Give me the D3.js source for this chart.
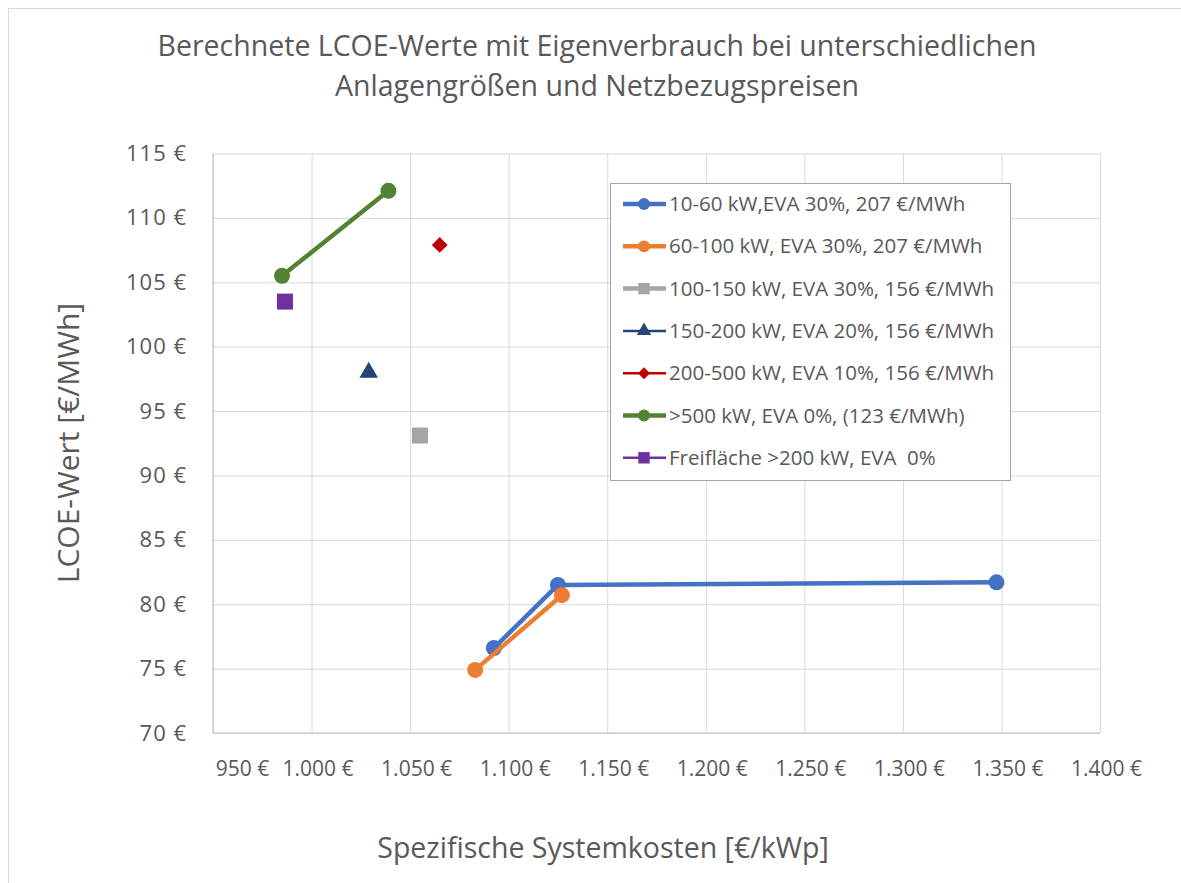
<!DOCTYPE html>
<meta charset="utf-8">
<style>
body { margin: 0; background: #fff; }
text { font-family: "Open Sans", sans-serif; fill: #595959; }
.grid line { stroke: #d9d9d9; stroke-width: 1px; }
.grid path { display: none; }
</style>
<svg width="1181" height="883"></svg>
<script src="https://d3js.org/d3.v7.min.js"></script>
<script>
// series names (legend order)
var seriesNames = [
  "10-60 kW,EVA 30%, 207 €/MWh",
  "60-100 kW, EVA 30%, 207 €/MWh",
  "100-150 kW, EVA 30%, 156 €/MWh",
  "150-200 kW, EVA 20%, 156 €/MWh",
  "200-500 kW, EVA 10%, 156 €/MWh",
  ">500 kW, EVA 0%, (123 €/MWh)",
  "Freifläche >200 kW, EVA  0%"
];
// x = spezifische Systemkosten [€/kWp], y = LCOE [€/MWh]
var kosten = [
  [1092.5, 1125, 1347.5],
  [1083, 1127],
  [1055],
  [1029],
  [1065],
  [985, 1039],
  [986.5]
];
var lcoe = [
  [76.6, 81.5, 81.7],
  [74.9, 80.7],
  [93.1],
  [98.0],
  [107.9],
  [105.5, 112.1],
  [103.5]
];
var colors = ["#4472c4", "#ed7d31", "#a5a5a5", "#264478", "#c00000", "#548235", "#7030a0"];
var markers = ["circle", "circle", "square", "triangle", "diamond", "circle", "square"];
var xTicks = [950, 1000, 1050, 1100, 1150, 1200, 1250, 1300, 1350, 1400];
var yTicks = [70, 75, 80, 85, 90, 95, 100, 105, 110, 115];

var svg = d3.select("svg");
var plotLeft = 213, plotRight = 1100, plotTop = 153.5, plotBottom = 733;

var de = d3.formatLocale({decimal: ",", thousands: ".", grouping: [3], currency: ["", " €"]});
var fmt = de.format(",.0f");

var x = d3.scaleLinear().domain([950, 1400]).range([plotLeft, plotRight]);
var y = d3.scaleLinear().domain([70, 115]).range([plotBottom, plotTop]);

// chart area border
svg.append("rect")
    .attr("x", 8.5).attr("y", 8.5)
    .attr("width", 1200).attr("height", 900)
    .attr("fill", "none").attr("stroke", "#d9d9d9");

// title
var title = svg.append("text")
    .attr("text-anchor", "middle")
    .attr("font-size", 28.5);
title.append("tspan").attr("x", 597).attr("y", 56)
    .text("Berechnete LCOE-Werte mit Eigenverbrauch bei unterschiedlichen");
title.append("tspan").attr("x", 597).attr("y", 96)
    .text("Anlagengrößen und Netzbezugspreisen");

// grid
svg.append("g").attr("class", "grid")
    .attr("transform", "translate(0," + plotBottom + ")")
    .call(d3.axisBottom(x).tickValues(xTicks).tickSize(-(plotBottom - plotTop)).tickFormat(""));
svg.append("g").attr("class", "grid")
    .attr("transform", "translate(" + plotLeft + ",0)")
    .call(d3.axisLeft(y).tickValues(yTicks).tickSize(-(plotRight - plotLeft)).tickFormat(""));

// axis lines
svg.append("line").attr("x1", plotLeft).attr("x2", plotRight).attr("y1", plotBottom).attr("y2", plotBottom)
    .attr("stroke", "#bfbfbf");
svg.append("line").attr("x1", plotLeft).attr("x2", plotLeft).attr("y1", plotTop).attr("y2", plotBottom)
    .attr("stroke", "#bfbfbf");

// tick labels
var xAxis = svg.append("g")
    .attr("transform", "translate(0," + plotBottom + ")")
    .call(d3.axisBottom(x).tickValues(xTicks).tickSize(0).tickPadding(28)
      .tickFormat(function(d) { return fmt(d) + " €"; }));
xAxis.select(".domain").remove();
xAxis.selectAll("text").attr("font-size", 21).attr("fill", "#595959")
    .attr("font-family", "Open Sans").attr("dx", 6);
xAxis.selectAll("text").filter(function(d) { return d === 950; }).attr("dx", 29);

var yAxis = svg.append("g")
    .attr("transform", "translate(" + plotLeft + ",0)")
    .call(d3.axisLeft(y).tickValues(yTicks).tickSize(0).tickPadding(26)
      .tickFormat(function(d) { return fmt(d) + " €"; }));
yAxis.select(".domain").remove();
yAxis.selectAll("text").attr("font-size", 22).attr("fill", "#595959")
    .attr("font-family", "Open Sans").attr("letter-spacing", 1);

// axis titles
svg.append("text").attr("text-anchor", "middle")
    .attr("x", 603).attr("y", 858).attr("font-size", 28.5)
    .text("Spezifische Systemkosten [€/kWp]");
svg.append("text").attr("text-anchor", "middle")
    .attr("transform", "translate(79,443) rotate(-90)").attr("font-size", 30)
    .text("LCOE-Wert [€/MWh]");

var symbolType = {
  circle: d3.symbolCircle, square: d3.symbolSquare,
  triangle: d3.symbolTriangle, diamond: d3.symbolSquare
};
var symbolSize = {circle: 200, square: 256, triangle: 150, diamond: 125};
var symbolRot = {circle: 0, square: 0, triangle: 0, diamond: 45};

var line = d3.line().x(function(d) { return x(d[0]); }).y(function(d) { return y(d[1]); });

// series
seriesNames.forEach(function(name, i) {
  var pts = kosten[i].map(function(k, j) { return [k, lcoe[i][j]]; });
  var g = svg.append("g");
  if (pts.length > 1) {
    g.append("path").attr("d", line(pts))
      .attr("fill", "none").attr("stroke", colors[i])
      .attr("stroke-width", 4.5).attr("stroke-linejoin", "round");
  }
  g.selectAll("path.pt").data(pts).enter().append("path")
    .attr("class", "pt")
    .attr("transform", function(d) {
      return "translate(" + x(d[0]) + "," + y(d[1]) + ") rotate(" + symbolRot[markers[i]] + ")";
    })
    .attr("d", d3.symbol().type(symbolType[markers[i]]).size(symbolSize[markers[i]]))
    .attr("fill", colors[i]);
});

// legend
var lg = svg.append("g");
lg.append("rect").attr("x", 610.5).attr("y", 183.5).attr("width", 400).attr("height", 297)
    .attr("fill", "#fff").attr("stroke", "#a6a6a6");
var legendWidth = [4.5, 4.5, 4.5, 2.5, 2.5, 4.5, 2.5];
var legendSize = {circle: 110, square: 130, triangle: 90, diamond: 72};
seriesNames.forEach(function(name, i) {
  var cy = 204 + i * 42.3;
  lg.append("line").attr("x1", 623).attr("x2", 666).attr("y1", cy).attr("y2", cy)
    .attr("stroke", colors[i]).attr("stroke-width", legendWidth[i]);
  lg.append("path").attr("transform", "translate(644," + cy + ") rotate(" + symbolRot[markers[i]] + ")")
    .attr("d", d3.symbol().type(symbolType[markers[i]]).size(legendSize[markers[i]]))
    .attr("fill", colors[i]);
  lg.append("text").attr("x", 669).attr("y", cy + 7).attr("font-size", 20.5)
    .attr("xml:space", "preserve")
    .text(name);
});
</script>
